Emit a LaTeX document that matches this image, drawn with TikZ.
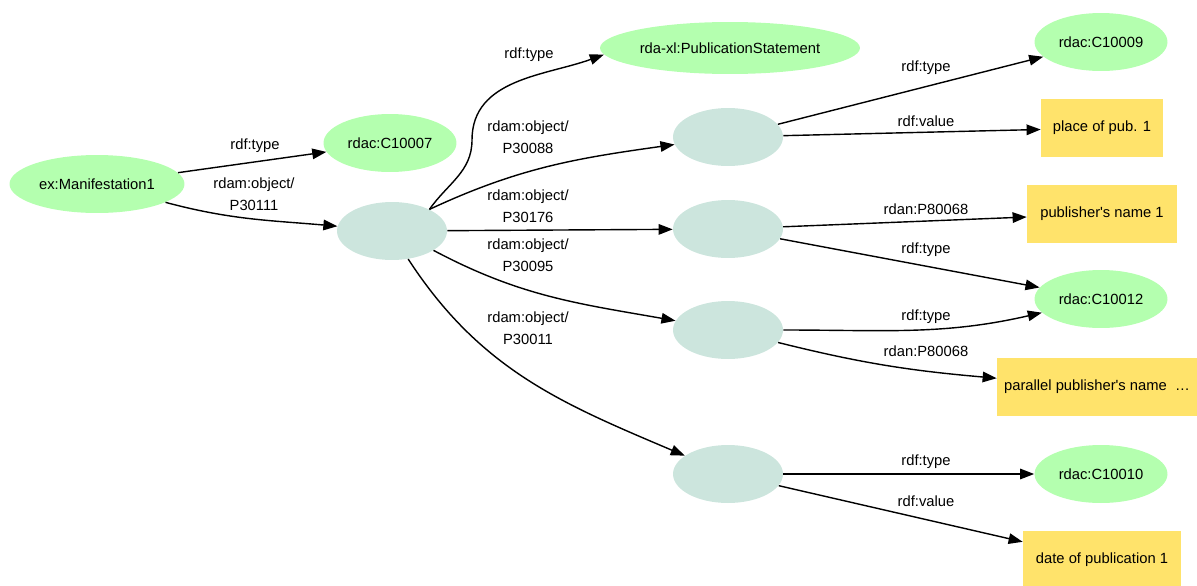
\documentclass[tikz,border=0pt]{standalone}
\usepackage{fontspec}
\setmainfont{Liberation Sans}[Ligatures=TeXOff]
\usetikzlibrary{shapes.geometric,arrows.meta}
\definecolor{rdfgreen}{RGB}{180,255,175}
\definecolor{rdfblank}{RGB}{204,229,221}
\definecolor{rdfyellow}{RGB}{255,227,107}

\begin{document}
\begin{tikzpicture}[x=0.02cm,y=0.02cm,
  font=\fontsize{8.4}{12.5}\selectfont,
  uri/.style={ellipse,fill=rdfgreen,inner sep=0pt,minimum width=2.66cm,minimum height=1.16cm},
  bnode/.style={ellipse,fill=rdfblank,inner sep=0pt,minimum width=2.2cm,minimum height=1.16cm},
  lit/.style={rectangle,fill=rdfyellow,inner sep=0pt,minimum height=1.16cm},
  lbl/.style={align=center,inner sep=0pt},
  edge/.style={-{Triangle[length=8pt,width=6pt]},line width=0.8pt}]
\useasboundingbox (0,0) rectangle (1197,-585);

\node [uri,minimum width=3.5cm] (manif) at (97,-184) {ex:Manifestation1};
\node [uri] (c7) at (390,-143) {rdac:C10007};
\node [bnode] (b0) at (392,-231) {};
\node [uri,minimum width=5.2cm,minimum height=1.04cm] (pubst) at (730,-48) {rda-xl:PublicationStatement};
\node [bnode] (b1) at (728,-137) {};
\node [bnode] (b2) at (728,-229) {};
\node [bnode] (b3) at (728,-330) {};
\node [bnode] (b4) at (728,-474) {};
\node [uri] (c9) at (1101,-42) {rdac:C10009};
\node [lit,minimum width=2.44cm] (place) at (1102,-128) {place of pub. 1};
\node [lit,minimum width=3cm] (pubname) at (1102,-214) {publisher's name 1};
\node [uri] (c12) at (1101,-299) {rdac:C10012};
\node [lit,minimum width=4cm] (parname) at (1097,-387) {parallel publisher's name \ \dots};
\node [uri] (c10) at (1101,-474) {rdac:C10010};
\node [lit,minimum width=3.16cm] (date) at (1102,-560) {date of publication 1};
\coordinate (turn) at (472,-140);

\draw [edge] (manif) -- (c7);
\draw [edge] (manif) to [out=-15,in=175] (b0);
\draw [edge] (b0.30) to [out=55,in=-90] (turn) to [out=90,in=200] (pubst.183);
\draw [edge] (b0.30) to [out=25,in=188] (b1);
\draw [edge] (b0) -- (b2);
\draw [edge] (b0.-25) to [out=-28,in=170] (b3);
\draw [edge] (b0.-60) to [out=-57,in=157] (b4);
\draw [edge] (b1) -- (c9);
\draw [edge] (b1) -- (place);
\draw [edge] (b2) -- (pubname);
\draw [edge] (b2) -- (c12);
\draw [edge] (b3) to [out=0,in=193] (c12);
\draw [edge] (b3) to [out=-14,in=175] (parname);
\draw [edge] (b4) -- (c10);
\draw [edge] (b4) -- (date);

\node [lbl] (l1) at (255,-146) {rdf:type};
\node [lbl] (l2) at (254,-194) {rdam:object/\\P30111};
\node [lbl] (l3) at (529,-55) {rdf:type};
\node [lbl] (l4) at (528,-137) {rdam:object/\\P30088};
\node [lbl] (l5) at (528,-206) {rdam:object/\\P30176};
\node [lbl] (l6) at (528,-255) {rdam:object/\\P30095};
\node [lbl] (l7) at (528,-328) {rdam:object/\\P30011};
\node [lbl] (l8) at (926,-68) {rdf:type};
\node [lbl] (l9) at (926,-121) {rdf:value};
\node [lbl] (l10) at (926,-209) {rdan:P80068};
\node [lbl] (l11) at (926,-250) {rdf:type};
\node [lbl] (l12) at (926,-317) {rdf:type};
\node [lbl] (l13) at (926,-351) {rdan:P80068};
\node [lbl] (l14) at (926,-462) {rdf:type};
\node [lbl] (l15) at (926,-501) {rdf:value};
\end{tikzpicture}
\end{document}
